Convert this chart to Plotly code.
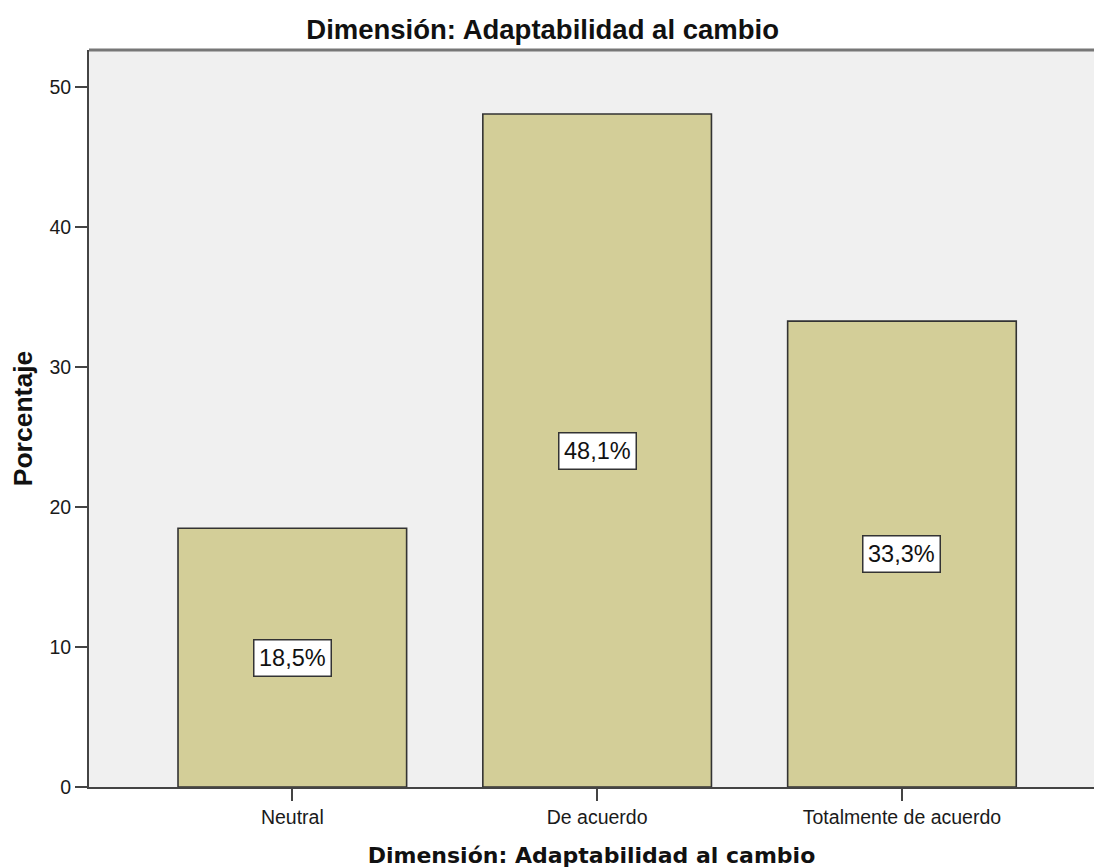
import plotly.graph_objects as go

categories = ["Neutral", "De acuerdo", "Totalmente de acuerdo"]
percentages = [18.5, 48.1, 33.3]
labels = ["18,5%", "48,1%", "33,3%"]
y_ticks = [0, 10, 20, 30, 40, 50]

title_text = "Dimensión: Adaptabilidad al cambio"

fig = go.Figure()
fig.add_trace(go.Bar(
    x=categories, y=percentages, width=0.75,
    marker=dict(color="#d3ce98", line=dict(color="#333333", width=1.6)),
    hoverinfo="skip",
))

for c, v, t in zip(categories, percentages, labels):
    fig.add_annotation(
        x=c, y=v / 2, text=t, showarrow=False,
        font=dict(family="Liberation Sans, Arial", size=23.5, color="#111111"),
        bgcolor="white", bordercolor="#333333", borderwidth=1.5, borderpad=4.5,
    )

fig.add_shape(type="line", xref="paper", yref="paper", x0=0, x1=1, y0=1, y1=1,
              line=dict(color="#777777", width=3))

fig.update_layout(
    width=1094, height=868,
    margin=dict(l=89, r=0, t=50, b=81),
    paper_bgcolor="white", plot_bgcolor="#f0f0f0",
    showlegend=False,
    title=dict(text="<b>" + title_text + "</b>", x=0.496, xanchor="center",
               y=1 - 29 / 868, yanchor="middle", yref="container",
               font=dict(family="Liberation Sans, Arial", size=27.5, color="#111111")),
    font=dict(family="Liberation Sans, Arial", color="#222222"),
)
fig.update_xaxes(
    type="category", categoryorder="array", categoryarray=categories,
    range=[-0.667, 2.63], showline=True, linecolor="#444444", linewidth=2,
    ticks="outside", ticklen=12, tickwidth=1.5, tickcolor="#444444",
    tickfont=dict(size=19.5, color="#1a1a1a"), showgrid=False,
    title=dict(text="<b>" + title_text + "</b>", standoff=22,
               font=dict(family="DejaVu Sans, Liberation Sans", size=22, color="#111111")),
)
fig.update_yaxes(
    range=[0, 52.68], tickvals=y_ticks, showline=True, linecolor="#444444", linewidth=2,
    ticks="outside", ticklen=12, tickwidth=1.5, tickcolor="#444444",
    tickfont=dict(size=19.5, color="#1a1a1a"), showgrid=False, zeroline=False,
    title=dict(text="<b>Porcentaje</b>", standoff=9,
               font=dict(family="Liberation Sans, Arial", size=26.5, color="#111111")),
)

fig.write_html("out.html")
